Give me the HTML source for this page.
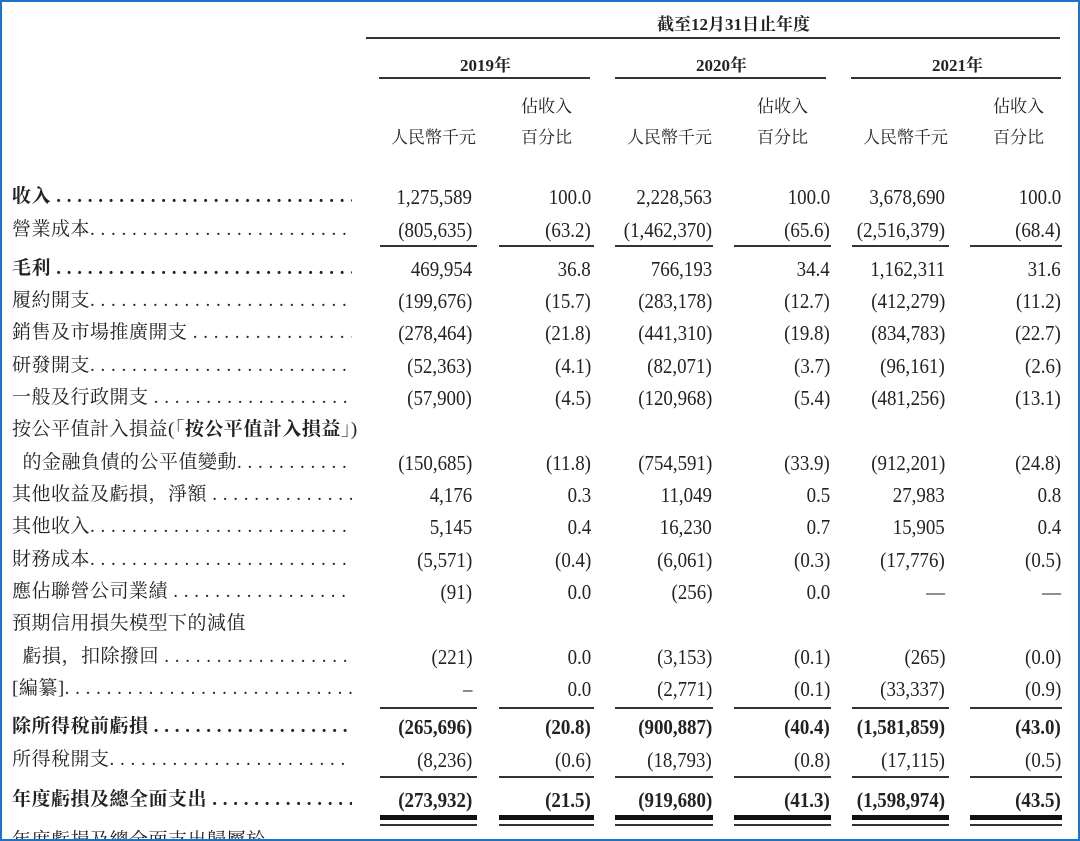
<!DOCTYPE html>
<html><head><meta charset="utf-8"><style>
body{margin:0;background:#fff;}
#w{position:relative;width:1076px;height:837px;border:2px solid #1b74c9;overflow:hidden;font-family:"Liberation Serif","Noto Serif CJK SC",serif;color:#222;}
.r{position:absolute;left:0;width:1076px;height:26px;line-height:26px;font-size:19px;}
.l{position:absolute;left:10px;white-space:nowrap;letter-spacing:0.5px;width:340px;overflow:hidden;}
.n{position:absolute;white-space:nowrap;text-align:right;font-size:21px;transform:scaleX(0.9);transform-origin:right center;}
.c1{right:calc(1076px - 470px)}.c2{right:calc(1076px - 589px)}.c3{right:calc(1076px - 710px)}
.c4{right:calc(1076px - 828px)}.c5{right:calc(1076px - 943px)}.c6{right:calc(1076px - 1059px)}
.b{font-weight:bold}
.ln{position:absolute;height:2px;background:#333}
.h{position:absolute;font-size:17px;font-weight:bold;white-space:nowrap;}
</style></head><body><div id="w">
<div class="h" style="left:655px;top:8px;">截至12月31日止年度</div>
<div class="ln" style="left:364px;width:694px;top:35px;"></div>
<div class="h" style="left:458px;top:49px;">2019年</div>
<div class="h" style="left:694px;top:49px;">2020年</div>
<div class="h" style="left:930px;top:49px;">2021年</div>
<div class="ln" style="left:377px;width:211px;top:75px;"></div>
<div class="ln" style="left:613px;width:211px;top:75px;"></div>
<div class="ln" style="left:849px;width:210px;top:75px;"></div>
<div class="h" style="left:519px;top:90px;font-weight:normal">佔收入</div>
<div class="h" style="left:519px;top:121px;font-weight:normal">百分比</div>
<div class="h" style="left:389px;top:121px;font-weight:normal">人民幣千元</div>
<div class="h" style="left:755px;top:90px;font-weight:normal">佔收入</div>
<div class="h" style="left:755px;top:121px;font-weight:normal">百分比</div>
<div class="h" style="left:625px;top:121px;font-weight:normal">人民幣千元</div>
<div class="h" style="left:991px;top:90px;font-weight:normal">佔收入</div>
<div class="h" style="left:991px;top:121px;font-weight:normal">百分比</div>
<div class="h" style="left:861px;top:121px;font-weight:normal">人民幣千元</div>

<div class="r" style="top:182px"><span class="l b">收入 . . . . . . . . . . . . . . . . . . . . . . . . . . . . . . . . .</span><span class="n c1">1,275,589</span><span class="n c2">100.0</span><span class="n c3">2,228,563</span><span class="n c4">100.0</span><span class="n c5">3,678,690</span><span class="n c6">100.0</span></div>
<div class="r" style="top:215px"><span class="l">營業成本. . . . . . . . . . . . . . . . . . . . . . . . . . . . . . . .</span><span class="n c1">(805,635)</span><span class="n c2">(63.2)</span><span class="n c3">(1,462,370)</span><span class="n c4">(65.6)</span><span class="n c5">(2,516,379)</span><span class="n c6">(68.4)</span></div>
<div class="ln" style="left:378px;width:97px;top:243px"></div><div class="ln" style="left:497px;width:95px;top:243px"></div><div class="ln" style="left:613px;width:98px;top:243px"></div><div class="ln" style="left:732px;width:97px;top:243px"></div><div class="ln" style="left:850px;width:97px;top:243px"></div><div class="ln" style="left:968px;width:92px;top:243px"></div>
<div class="r" style="top:254px"><span class="l b">毛利 . . . . . . . . . . . . . . . . . . . . . . . . . . . . . . . . .</span><span class="n c1">469,954</span><span class="n c2">36.8</span><span class="n c3">766,193</span><span class="n c4">34.4</span><span class="n c5">1,162,311</span><span class="n c6">31.6</span></div>
<div class="r" style="top:286px"><span class="l">履約開支. . . . . . . . . . . . . . . . . . . . . . . . . . . . . . . .</span><span class="n c1">(199,676)</span><span class="n c2">(15.7)</span><span class="n c3">(283,178)</span><span class="n c4">(12.7)</span><span class="n c5">(412,279)</span><span class="n c6">(11.2)</span></div>
<div class="r" style="top:318px"><span class="l">銷售及市場推廣開支 . . . . . . . . . . . . . . . . . . . . . . .</span><span class="n c1">(278,464)</span><span class="n c2">(21.8)</span><span class="n c3">(441,310)</span><span class="n c4">(19.8)</span><span class="n c5">(834,783)</span><span class="n c6">(22.7)</span></div>
<div class="r" style="top:351px"><span class="l">研發開支. . . . . . . . . . . . . . . . . . . . . . . . . . . . . . . .</span><span class="n c1">(52,363)</span><span class="n c2">(4.1)</span><span class="n c3">(82,071)</span><span class="n c4">(3.7)</span><span class="n c5">(96,161)</span><span class="n c6">(2.6)</span></div>
<div class="r" style="top:383px"><span class="l">一般及行政開支 . . . . . . . . . . . . . . . . . . . . . . . . . .</span><span class="n c1">(57,900)</span><span class="n c2">(4.5)</span><span class="n c3">(120,968)</span><span class="n c4">(5.4)</span><span class="n c5">(481,256)</span><span class="n c6">(13.1)</span></div>
<div class="r" style="top:415px"><span class="l" style="width:auto">按公平值計入損益(「<b>按公平值計入損益</b>」)</span></div>
<div class="r" style="top:448px"><span class="l">&nbsp;&nbsp;的金融負債的公平值變動. . . . . . . . . . . . . . . . . .</span><span class="n c1">(150,685)</span><span class="n c2">(11.8)</span><span class="n c3">(754,591)</span><span class="n c4">(33.9)</span><span class="n c5">(912,201)</span><span class="n c6">(24.8)</span></div>
<div class="r" style="top:480px"><span class="l">其他收益及虧損，淨額 . . . . . . . . . . . . . . . . . . . . .</span><span class="n c1">4,176</span><span class="n c2">0.3</span><span class="n c3">11,049</span><span class="n c4">0.5</span><span class="n c5">27,983</span><span class="n c6">0.8</span></div>
<div class="r" style="top:512px"><span class="l">其他收入. . . . . . . . . . . . . . . . . . . . . . . . . . . . . . . .</span><span class="n c1">5,145</span><span class="n c2">0.4</span><span class="n c3">16,230</span><span class="n c4">0.7</span><span class="n c5">15,905</span><span class="n c6">0.4</span></div>
<div class="r" style="top:545px"><span class="l">財務成本. . . . . . . . . . . . . . . . . . . . . . . . . . . . . . . .</span><span class="n c1">(5,571)</span><span class="n c2">(0.4)</span><span class="n c3">(6,061)</span><span class="n c4">(0.3)</span><span class="n c5">(17,776)</span><span class="n c6">(0.5)</span></div>
<div class="r" style="top:577px"><span class="l">應佔聯營公司業績 . . . . . . . . . . . . . . . . . . . . . . . . .</span><span class="n c1">(91)</span><span class="n c2">0.0</span><span class="n c3">(256)</span><span class="n c4">0.0</span><span class="n c5">—</span><span class="n c6">—</span></div>
<div class="r" style="top:609px"><span class="l">預期信用損失模型下的減值</span></div>
<div class="r" style="top:642px"><span class="l">&nbsp;&nbsp;虧損，扣除撥回 . . . . . . . . . . . . . . . . . . . . . . . . .</span><span class="n c1">(221)</span><span class="n c2">0.0</span><span class="n c3">(3,153)</span><span class="n c4">(0.1)</span><span class="n c5">(265)</span><span class="n c6">(0.0)</span></div>
<div class="r" style="top:674px"><span class="l">[編纂]. . . . . . . . . . . . . . . . . . . . . . . . . . . . . . . . .</span><span class="n c1">–</span><span class="n c2">0.0</span><span class="n c3">(2,771)</span><span class="n c4">(0.1)</span><span class="n c5">(33,337)</span><span class="n c6">(0.9)</span></div>
<div class="ln" style="left:378px;width:97px;top:705px"></div><div class="ln" style="left:497px;width:95px;top:705px"></div><div class="ln" style="left:613px;width:98px;top:705px"></div><div class="ln" style="left:732px;width:97px;top:705px"></div><div class="ln" style="left:850px;width:97px;top:705px"></div><div class="ln" style="left:968px;width:92px;top:705px"></div>
<div class="r b" style="top:712px"><span class="l">除所得稅前虧損 . . . . . . . . . . . . . . . . . . . . . . . . . .</span><span class="n c1">(265,696)</span><span class="n c2">(20.8)</span><span class="n c3">(900,887)</span><span class="n c4">(40.4)</span><span class="n c5">(1,581,859)</span><span class="n c6">(43.0)</span></div>
<div class="r" style="top:745px"><span class="l">所得稅開支. . . . . . . . . . . . . . . . . . . . . . . . . . . . . .</span><span class="n c1">(8,236)</span><span class="n c2">(0.6)</span><span class="n c3">(18,793)</span><span class="n c4">(0.8)</span><span class="n c5">(17,115)</span><span class="n c6">(0.5)</span></div>
<div class="ln" style="left:378px;width:97px;top:774px"></div><div class="ln" style="left:497px;width:95px;top:774px"></div><div class="ln" style="left:613px;width:98px;top:774px"></div><div class="ln" style="left:732px;width:97px;top:774px"></div><div class="ln" style="left:850px;width:97px;top:774px"></div><div class="ln" style="left:968px;width:92px;top:774px"></div>
<div class="r b" style="top:785px"><span class="l">年度虧損及總全面支出 . . . . . . . . . . . . . . . . . . . . .</span><span class="n c1">(273,932)</span><span class="n c2">(21.5)</span><span class="n c3">(919,680)</span><span class="n c4">(41.3)</span><span class="n c5">(1,598,974)</span><span class="n c6">(43.5)</span></div>
<div class="ln" style="left:378px;width:97px;top:813px;height:5px;background:#111"></div><div class="ln" style="left:497px;width:95px;top:813px;height:5px;background:#111"></div><div class="ln" style="left:613px;width:98px;top:813px;height:5px;background:#111"></div><div class="ln" style="left:732px;width:97px;top:813px;height:5px;background:#111"></div><div class="ln" style="left:850px;width:97px;top:813px;height:5px;background:#111"></div><div class="ln" style="left:968px;width:92px;top:813px;height:5px;background:#111"></div>
<div class="ln" style="left:378px;width:97px;top:822px"></div><div class="ln" style="left:497px;width:95px;top:822px"></div><div class="ln" style="left:613px;width:98px;top:822px"></div><div class="ln" style="left:732px;width:97px;top:822px"></div><div class="ln" style="left:850px;width:97px;top:822px"></div><div class="ln" style="left:968px;width:92px;top:822px"></div>
<div class="r" style="top:826px"><span class="l">年度虧損及總全面支出歸屬於</span></div>
</div></body></html>
